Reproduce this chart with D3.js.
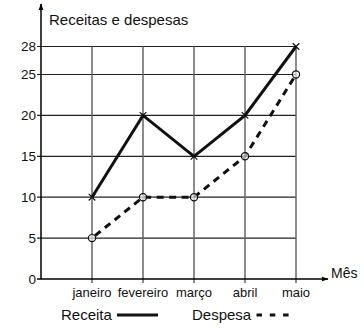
<!DOCTYPE html>
<html>
<head>
<meta charset="utf-8">
<script src="https://cdn.jsdelivr.net/npm/d3@7"></script>
<style>
  body { margin: 0; background: #fff; }
  svg { display: block; font-family: "Liberation Sans", Arial, sans-serif; }
</style>
</head>
<body>
<div id="chart"></div>
<script>
// values
const months = ["janeiro", "fevereiro", "março", "abril", "maio"];
const receita = [10, 20, 15, 20, 28];
const despesa = [5, 10, 10, 15, 25];
const yTicks = [0, 5, 10, 15, 20, 25, 28];

const width = 364;
const height = 328;
const x0 = 41;     // y axis position
const yBase = 279; // y = 0

const svg = d3.select("#chart")
  .append("svg")
  .attr("width", width)
  .attr("height", height);

const x = d3.scalePoint()
  .domain(months)
  .range([92, 296]);

// top step (25 -> 28) is drawn a little wider in the original
const y = d3.scaleLinear()
  .domain([0, 25, 28])
  .range([yBase, 74.5, 46.5]);

svg.append("defs").append("marker")
  .attr("id", "arrow")
  .attr("viewBox", "0 0 10 10")
  .attr("refX", 9)
  .attr("refY", 5)
  .attr("markerWidth", 7)
  .attr("markerHeight", 7)
  .attr("markerUnits", "userSpaceOnUse")
  .attr("orient", "auto")
  .append("path")
  .attr("d", "M0,1.5L10,5L0,8.5Z")
  .attr("fill", "#000");

// grid
svg.append("g")
  .selectAll("line")
  .data(yTicks.slice(1))
  .join("line")
  .attr("x1", x0 - 4)
  .attr("x2", x(months[months.length - 1]))
  .attr("y1", d => y(d))
  .attr("y2", d => y(d))
  .attr("stroke", "#222")
  .attr("stroke-width", 1.2);

svg.append("g")
  .selectAll("line")
  .data(months)
  .join("line")
  .attr("x1", d => x(d))
  .attr("x2", d => x(d))
  .attr("y1", yBase + 4)
  .attr("y2", y(28))
  .attr("stroke", "#666")
  .attr("stroke-width", 1.5);

// axes
svg.append("line")
  .attr("x1", x0).attr("x2", x0)
  .attr("y1", yBase).attr("y2", 4)
  .attr("stroke", "#000").attr("stroke-width", 1.5)
  .attr("marker-end", "url(#arrow)");

svg.append("line")
  .attr("x1", x0).attr("x2", 328)
  .attr("y1", yBase).attr("y2", yBase)
  .attr("stroke", "#000").attr("stroke-width", 1.5)
  .attr("marker-end", "url(#arrow)");

svg.append("line")
  .attr("x1", x0 - 4).attr("x2", x0)
  .attr("y1", yBase).attr("y2", yBase)
  .attr("stroke", "#000").attr("stroke-width", 1.5);

// tick labels
svg.append("g")
  .attr("text-anchor", "end")
  .attr("font-size", 13.5)
  .selectAll("text")
  .data(yTicks)
  .join("text")
  .attr("x", x0 - 5)
  .attr("y", d => y(d))
  .attr("dy", "0.36em")
  .attr("fill", "#111")
  .text(d => d);

svg.append("g")
  .attr("text-anchor", "middle")
  .attr("font-size", 13)
  .selectAll("text")
  .data(months)
  .join("text")
  .attr("x", d => x(d))
  .attr("y", 297)
  .attr("fill", "#111")
  .text(d => d);

svg.append("text")
  .attr("x", 331)
  .attr("y", 278)
  .attr("font-size", 14)
  .attr("fill", "#111")
  .text("Mês");

svg.append("text")
  .attr("x", 49)
  .attr("y", 25)
  .attr("font-size", 15)
  .attr("fill", "#111")
  .text("Receitas e despesas");

// lines
const line = d3.line()
  .x((d, i) => x(months[i]))
  .y(d => y(d));

svg.append("path")
  .datum(despesa)
  .attr("d", line)
  .attr("fill", "none")
  .attr("stroke", "#111")
  .attr("stroke-width", 3)
  .attr("stroke-dasharray", "7,5.5")
  .attr("stroke-dashoffset", -4);

svg.append("path")
  .datum(receita)
  .attr("d", line)
  .attr("fill", "none")
  .attr("stroke", "#111")
  .attr("stroke-width", 3);

// markers
svg.append("g")
  .selectAll("circle")
  .data(despesa)
  .join("circle")
  .attr("cx", (d, i) => x(months[i]))
  .attr("cy", d => y(d))
  .attr("r", 3.6)
  .attr("fill", "#fff")
  .attr("fill-opacity", 0.6)
  .attr("stroke", "#111")
  .attr("stroke-width", 1.2);

svg.append("g")
  .selectAll("path")
  .data(receita)
  .join("path")
  .attr("transform", (d, i) => `translate(${x(months[i])},${y(d)})`)
  .attr("d", d3.symbol(d3.symbolTimes, 30))
  .attr("fill", "none")
  .attr("stroke", "#111")
  .attr("stroke-width", 1.2);

// legend
const legend = svg.append("g").attr("font-size", 15).attr("fill", "#111");
legend.append("text").attr("x", 61).attr("y", 320).text("Receita");
legend.append("line")
  .attr("x1", 117).attr("x2", 158).attr("y1", 315).attr("y2", 315)
  .attr("stroke", "#111").attr("stroke-width", 3);
legend.append("text").attr("x", 192).attr("y", 320).text("Despesa");
legend.append("line")
  .attr("x1", 256.5).attr("x2", 289).attr("y1", 315).attr("y2", 315)
  .attr("stroke", "#111").attr("stroke-width", 3)
  .attr("stroke-dasharray", "5.5,7.8");
</script>
</body>
</html>
